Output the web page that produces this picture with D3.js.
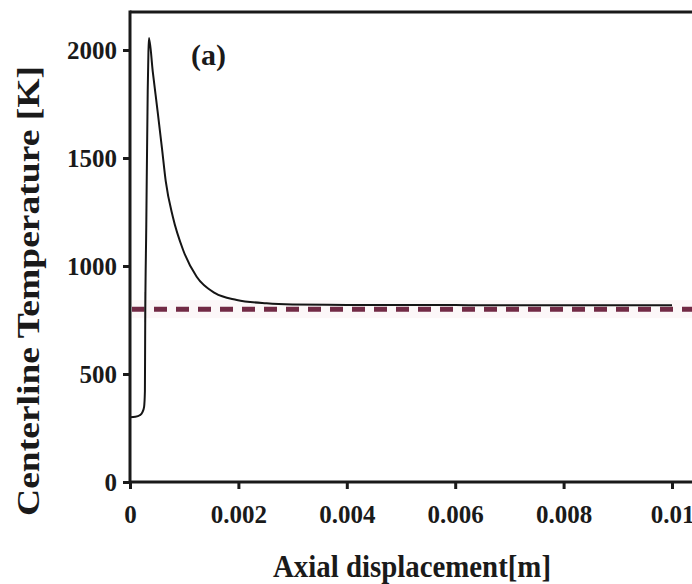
<!DOCTYPE html>
<html>
<head>
<meta charset="utf-8">
<script src="https://cdn.jsdelivr.net/npm/d3@7"></script>
<style>
  html, body { margin: 0; padding: 0; background: #fff; }
  svg { display: block; }
  text { font-family: "Liberation Serif", "Times New Roman", serif; font-weight: bold; fill: #1a1a1a; }
</style>
</head>
<body>
<svg id="chart" width="692" height="584"></svg>
<script>
// ---- data ----
const axialPos = [0, 0.0001, 0.00018, 0.00023, 0.00026, 0.000275, 0.00028, 0.0003, 0.000327, 0.00034, 0.00035,
  0.00042, 0.00051, 0.00059, 0.00066, 0.00079, 0.00098, 0.00123, 0.00157, 0.00197, 0.00252, 0.003,
  0.004, 0.005, 0.006, 0.007, 0.008, 0.009, 0.01];
const centerTemp = [300, 302, 309, 324, 348, 420, 700, 1180, 1815, 1990, 2055,
  1900, 1715, 1545, 1392, 1228, 1074, 950, 874, 843, 827, 822,
  820, 819, 819, 818, 818, 818, 818];
const referenceTemp = [800];
const refRange = [0, 0.0104];
const xTicks = [0, 0.002, 0.004, 0.006, 0.008, 0.01];
const xTickLabels = ["0", "0.002", "0.004", "0.006", "0.008", "0.01"];
const yTicks = [0, 500, 1000, 1500, 2000];
const yTickLabels = ["0", "500", "1000", "1500", "2000"];
const panelLabel = "(a)";
const xTitle = "Axial displacement[m]";
const yTitle = "Centerline Temperature [K]";

// ---- layout ----
const svg = d3.select("#chart");
const x = d3.scaleLinear().domain([0, 0.01]).range([130, 672]);
const y = d3.scaleLinear().domain([0, 2000]).range([482, 50]);
const topY = 12;

// faint halo band around reference line
svg.append("rect")
  .attr("x", x(0) + 2).attr("width", 692 - x(0))
  .attr("y", y(referenceTemp[0]) - 9).attr("height", 18)
  .attr("fill", "#fcf7f8");

// reference dashed line
svg.append("line")
  .attr("x1", x(refRange[0]) + 2).attr("x2", x(refRange[1]))
  .attr("y1", y(referenceTemp[0])).attr("y2", y(referenceTemp[0]))
  .attr("stroke", "#722a45").attr("stroke-width", 5)
  .attr("stroke-dasharray", "13,9");

// faint vertical mark
svg.append("line")
  .attr("x1", x(0.00028)).attr("x2", x(0.00028))
  .attr("y1", y(880)).attr("y2", y(740))
  .attr("stroke", "#c8c8c8").attr("stroke-width", 1.5);

// curve
const pts = axialPos.map((d, i) => [d, centerTemp[i]]);
svg.append("path")
  .datum(pts)
  .attr("fill", "none")
  .attr("stroke", "#151515")
  .attr("stroke-width", 2)
  .attr("d", d3.line().x(d => x(d[0])).y(d => y(d[1])).curve(d3.curveMonotoneX));

// frame: top border
svg.append("line")
  .attr("x1", x(0)).attr("x2", 692)
  .attr("y1", topY).attr("y2", topY)
  .attr("stroke", "#1a1a1a").attr("stroke-width", 3);

// axes
const xAxis = d3.axisBottom(x).tickValues(xTicks).tickFormat((d, i) => xTickLabels[i]).tickSize(7).tickPadding(16);
const gx = svg.append("g").attr("transform", `translate(0,${y(0)})`).call(xAxis);
gx.select(".domain").attr("d", `M${x(0)},0H692`).attr("stroke", "#1a1a1a").attr("stroke-width", 3);
gx.selectAll(".tick line").attr("stroke", "#1a1a1a").attr("stroke-width", 3);
gx.selectAll(".tick text").attr("font-size", 25).attr("font-family", "Liberation Serif").attr("font-weight", "bold").attr("fill", "#1a1a1a");

const yAxis = d3.axisLeft(y).tickValues(yTicks).tickFormat((d, i) => yTickLabels[i]).tickSize(7).tickPadding(6);
const gy = svg.append("g").attr("transform", `translate(${x(0)},0)`).call(yAxis);
gy.select(".domain").attr("d", `M0,${topY - 1.5}V${y(0)}`).attr("stroke", "#1a1a1a").attr("stroke-width", 3);
gy.selectAll(".tick line").attr("stroke", "#1a1a1a").attr("stroke-width", 3);
gy.selectAll(".tick text").attr("font-size", 25).attr("font-family", "Liberation Serif").attr("font-weight", "bold").attr("fill", "#1a1a1a");

// panel label
svg.append("text").attr("x", 191).attr("y", 65).attr("font-size", 30).text(panelLabel);

// axis titles
svg.append("text")
  .attr("x", 412).attr("y", 577)
  .attr("text-anchor", "middle")
  .attr("font-size", 32)
  .attr("textLength", 278).attr("lengthAdjust", "spacingAndGlyphs")
  .text(xTitle);

svg.append("text")
  .attr("transform", "translate(39,291) rotate(-90)")
  .attr("text-anchor", "middle")
  .attr("font-size", 32)
  .attr("textLength", 450).attr("lengthAdjust", "spacingAndGlyphs")
  .text(yTitle);
</script>
</body>
</html>
